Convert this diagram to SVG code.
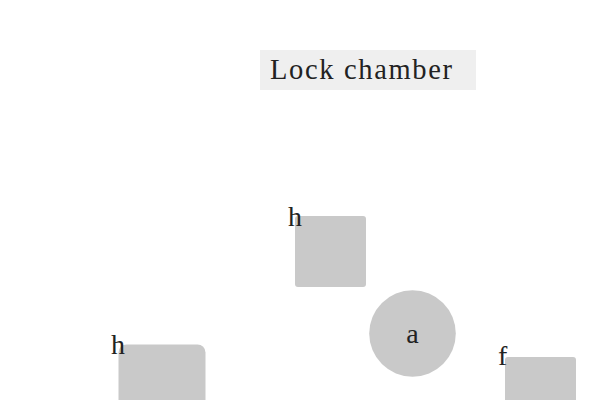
<svg xmlns="http://www.w3.org/2000/svg" width="600" height="400" viewBox="0 0 600 400">
<style>
text{font-family:"Liberation Serif","Times New Roman",serif;fill:#222}
.node{fill:#c9c9c9}
.lbl{font-size:28px}
</style>
<rect width="600" height="400" fill="#fff"/>
<g id="title">
<rect x="260" y="50" width="216" height="40" fill="#efefef"/>
<text x="270" y="78.5" font-size="28.5" textLength="182" lengthAdjust="spacing">Lock chamber</text>
</g>
<g id="connectors"></g>
<g id="node-h1">
<rect class="node" x="295" y="216" width="71" height="71" rx="3"/>
<text class="lbl" x="288" y="226">h</text>
</g>
<g id="node-a">
<circle class="node" cx="412.5" cy="333.5" r="43.3"/>
<text class="lbl" x="412.5" y="343" text-anchor="middle">a</text>
</g>
<g id="node-h2">
<rect class="node" x="118.5" y="344.5" width="87" height="87" rx="8"/>
<text class="lbl" x="111" y="353.5">h</text>
</g>
<g id="node-f">
<rect class="node" x="505" y="357" width="71" height="71" rx="3"/>
<text class="lbl" x="498" y="365">f</text>
</g>
</svg>
